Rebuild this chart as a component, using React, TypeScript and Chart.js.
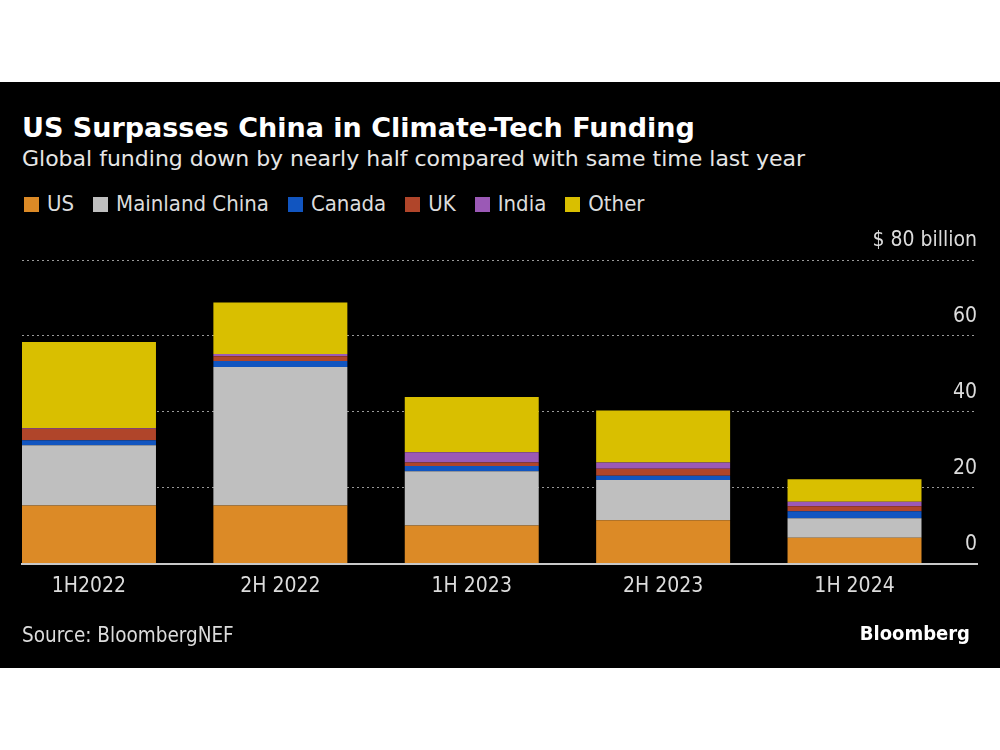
import React, { useEffect, useRef } from "react";
import { Chart, registerables } from "chart.js";

Chart.register(...registerables);

const categories = ["1H2022", "2H 2022", "1H 2023", "2H 2023", "1H 2024"];
const usValues = [15.3, 15.3, 10.0, 11.4, 6.8];
const chinaValues = [15.9, 36.5, 14.3, 10.6, 5.1];
const canadaValues = [1.3, 1.6, 1.4, 1.1, 1.9];
const ukValues = [3.0, 1.2, 0.9, 1.9, 1.3];
const indiaValues = [0.2, 0.6, 2.7, 1.6, 1.2];
const otherValues = [22.7, 13.6, 14.6, 13.7, 5.9];
const seriesNames = ["US", "Mainland China", "Canada", "UK", "India", "Other"];
const seriesColors = ["#dc8a26", "#bfbfbf", "#1155c0", "#b0452a", "#9b59b6", "#d9bf00"];
const yTickValues = [0, 20, 40, 60, 80];

const FONT = '"DejaVu Sans Condensed", "Liberation Sans Narrow", "DejaVu Sans", sans-serif';
const FONT_WIDE = '"DejaVu Sans", sans-serif';
const TEXT = "#dcdcdc";

export default function App() {
  const canvasRef = useRef<HTMLCanvasElement | null>(null);

  useEffect(() => {
    const canvas = canvasRef.current;
    if (!canvas) return;
    const allValues = [usValues, chinaValues, canadaValues, ukValues, indiaValues, otherValues];
    const chart = new Chart(canvas, {
      type: "bar",
      data: {
        datasets: allValues.map((vals, si) => ({
          label: seriesNames[si],
          data: vals.map((v, i) => ({ x: i, y: v })),
          backgroundColor: seriesColors[si],
          borderWidth: 0,
          categoryPercentage: 0.7,
          barPercentage: 1,
        })),
      },
      options: {
        animation: false,
        responsive: false,
        maintainAspectRatio: false,
        layout: { padding: { left: 22, right: 23, top: 260, bottom: 146.5 } },
        plugins: { legend: { display: false }, tooltip: { enabled: false } },
        scales: {
          x: {
            type: "linear",
            min: -0.35,
            max: 4.64,
            stacked: true,
            offset: false,
            grid: { display: false, drawTicks: false },
            border: { display: true, color: "#c8c8c8", width: 2 },
            afterBuildTicks: (axis: any) => {
              axis.ticks = categories.map((_, i) => ({ value: i }));
            },
            afterFit: (axis: any) => {
              axis.height = 40;
            },
            ticks: {
              autoSkip: false,
              maxRotation: 0,
              padding: 10,
              color: TEXT,
              font: { family: FONT, size: 21 },
              callback: (v: any) => categories[v as number] ?? "",
            },
          },
          y: {
            type: "linear",
            position: "right",
            min: 0,
            max: 80,
            stacked: true,
            grid: {
              drawTicks: false,
              lineWidth: 1,
              color: (ctx: any) => (ctx.tick && ctx.tick.value === 0 ? "rgba(0,0,0,0)" : "#999999"),
            },
            border: { display: false, dash: [2, 3] },
            afterBuildTicks: (axis: any) => {
              axis.ticks = yTickValues.map((v) => ({ value: v }));
            },
            afterFit: (axis: any) => {
              axis.width = 0;
            },
            ticks: {
              mirror: true,
              padding: 0,
              labelOffset: -19,
              color: TEXT,
              font: { family: FONT, size: 21 },
              callback: (v: any) => (v === 80 ? "$ 80 billion" : String(v)),
            },
          },
        },
      },
    });
    return () => chart.destroy();
  }, []);

  return (
    <div style={{ position: "absolute", left: 0, top: 0, width: 1000, height: 750, background: "#fff", overflow: "hidden" }}>
      <div style={{ position: "absolute", left: 0, top: 82, width: 1000, height: 586, background: "#000" }} />
      <div style={{ position: "absolute", left: 22, top: 114, fontFamily: FONT_WIDE, fontWeight: "bold", fontSize: 27, lineHeight: "27px", color: "#fff", whiteSpace: "nowrap" }}>
        US Surpasses China in Climate-Tech Funding
      </div>
      <div style={{ position: "absolute", left: 22, top: 148, fontFamily: FONT_WIDE, fontSize: 22, lineHeight: "22px", color: "#e6e6e6", whiteSpace: "nowrap" }}>
        Global funding down by nearly half compared with same time last year
      </div>
      <div style={{ position: "absolute", left: 24, top: 192, display: "flex", alignItems: "center", fontFamily: FONT, fontSize: 22, lineHeight: "24px", color: TEXT, whiteSpace: "nowrap" }}>
        {seriesNames.map((n, i) => (
          <div key={n} style={{ display: "flex", alignItems: "center", marginRight: 19 }}>
            <div style={{ width: 15, height: 15, background: seriesColors[i], marginRight: 8 }} />
            <span>{n}</span>
          </div>
        ))}
      </div>
      <canvas ref={canvasRef} width={1000} height={750} style={{ position: "absolute", left: 0, top: 0, width: 1000, height: 750 }} />
      <div style={{ position: "absolute", left: 22, top: 623, fontFamily: FONT, fontSize: 20.5, lineHeight: "24px", color: TEXT, whiteSpace: "nowrap" }}>
        Source: BloombergNEF
      </div>
      <div style={{ position: "absolute", right: 30, top: 621, fontFamily: FONT, fontWeight: "bold", fontSize: 20, lineHeight: "24px", color: "#fff", whiteSpace: "nowrap" }}>
        Bloomberg
      </div>
    </div>
  );
}
